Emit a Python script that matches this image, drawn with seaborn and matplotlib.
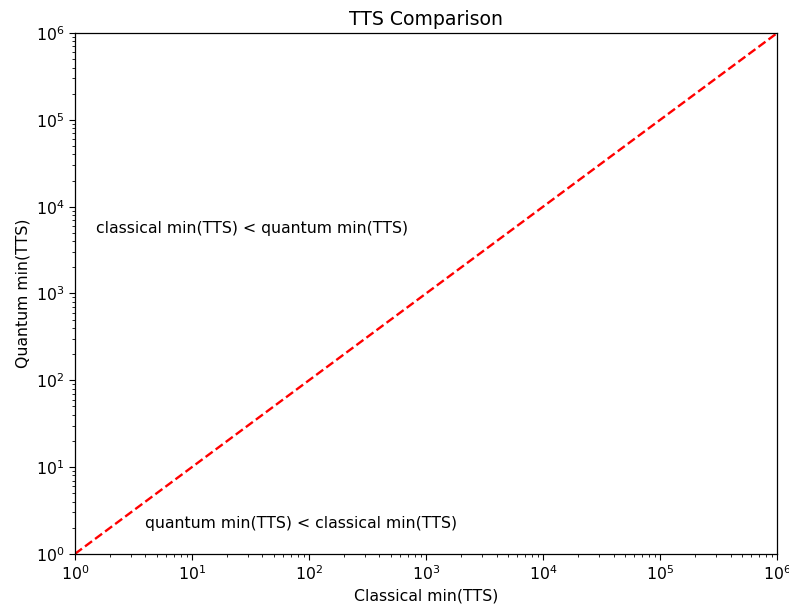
import matplotlib
matplotlib.use("Agg")
import matplotlib.pyplot as plt
import seaborn as sns
import pandas as pd

line_x = [1, 1e6]
line_y = [1, 1e6]
title = "TTS Comparison"
xlabel = "Classical min(TTS)"
ylabel = "Quantum min(TTS)"
label_upper = "classical min(TTS) < quantum min(TTS)"
label_lower = "quantum min(TTS) < classical min(TTS)"

plt.rcParams["font.size"] = 11.3
plt.rcParams["xtick.major.size"] = 4
plt.rcParams["ytick.major.size"] = 4
plt.rcParams["xtick.minor.size"] = 2.3
plt.rcParams["ytick.minor.size"] = 2.3
plt.rcParams["axes.linewidth"] = 0.9

df = pd.DataFrame({"x": line_x, "y": line_y})

fig = plt.figure(figsize=(7.89, 6.12), dpi=100)
ax = fig.add_subplot(111)
fig.subplots_adjust(left=0.095, right=0.985, top=0.946, bottom=0.095)

sns.lineplot(data=df, x="x", y="y", ax=ax, color="red", linestyle="--", linewidth=1.7)
ax.set_xscale("log")
ax.set_yscale("log")
ax.set_xlim(1, 1e6)
ax.set_ylim(1, 1e6)
ax.set_title(title)
ax.set_xlabel(xlabel)
ax.set_ylabel(ylabel)
ax.text(1.5, 5000, label_upper)
ax.text(4, 2, label_lower)

fig.savefig("out.png", dpi=100)
